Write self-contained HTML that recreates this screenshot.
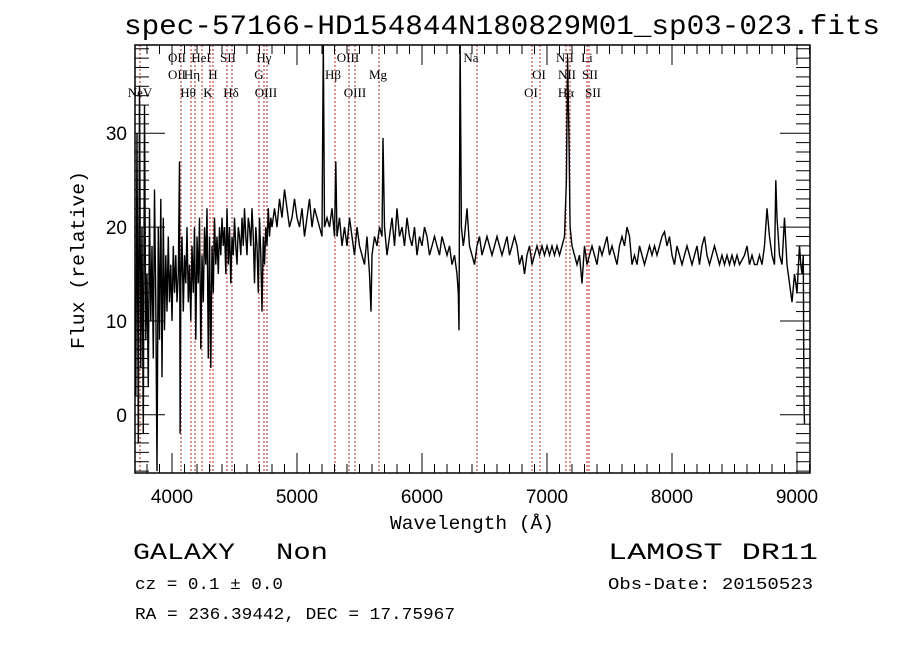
<!DOCTYPE html>
<html><head><meta charset="utf-8"><style>
html,body{margin:0;padding:0;background:#fff;}
svg{display:block;}
text{font-family:"Liberation Mono","DejaVu Sans Mono",monospace;fill:#000;}
.lab{font-family:"Liberation Serif",serif;font-size:13px;}
</style></head><body>
<svg id="chart" width="900" height="649" viewBox="0 0 900 649" xmlns="http://www.w3.org/2000/svg">
<rect width="900" height="649" fill="#fff"/>
<text x="502" y="34" font-size="28" text-anchor="middle" textLength="756" lengthAdjust="spacingAndGlyphs">spec-57166-HD154844N180829M01_sp03-023.fits</text>
<g id="lines"></g>
<g id="spec"></g>
<g id="axes"></g>
<text x="472" y="529" font-size="19" text-anchor="middle" textLength="164" lengthAdjust="spacingAndGlyphs">Wavelength (Å)</text>
<text transform="translate(84,260) rotate(-90)" font-size="19" text-anchor="middle" textLength="178" lengthAdjust="spacingAndGlyphs">Flux (relative)</text>
<text x="133" y="559" font-size="23" textLength="102" lengthAdjust="spacingAndGlyphs">GALAXY</text>
<text x="276" y="559" font-size="23" textLength="52" lengthAdjust="spacingAndGlyphs">Non</text>
<text x="608" y="559" font-size="23" textLength="210" lengthAdjust="spacingAndGlyphs">LAMOST DR11</text>
<text x="135" y="589" font-size="17" textLength="148" lengthAdjust="spacingAndGlyphs">cz = 0.1 ± 0.0</text>
<text x="608" y="589" font-size="17" textLength="205" lengthAdjust="spacingAndGlyphs">Obs-Date: 20150523</text>
<text x="135" y="619" font-size="17" textLength="320" lengthAdjust="spacingAndGlyphs">RA = 236.39442, DEC =  17.75967</text>
</svg>
<script>
const wavelengths=[3700,3710,3720,3730,3740,3750,3760,3770,3780,3790,3800,3810,3820,3830,3840,3850,3860,3870,3880,3890,3900,3910,3920,3930,3940,3950,3960,3970,3980,3990,4000,4010,4020,4030,4040,4050,4060,4065,4070,4080,4090,4100,
4110,4120,4130,4140,4150,4160,4170,4180,4190,4200,4210,4220,4230,4240,4250,4260,4270,4280,4290,4300,4310,4320,4330,4340,4350,4360,4370,4380,4390,4400,4410,4420,4430,4440,4450,4460,4470,4480,4490,4500,4510,4520,4530,4540,4550,4560,4570,4580,4590,4600,4610,4620,4630,4640,4650,4660,4670,4680,4690,4700,4710,4720,4730,4740,4750,4760,4770,4780,4790,4800,
4820,4840,4860,4880,4900,4920,4940,4960,4980,5000,5020,5040,5060,5080,5100,5120,5140,5160,5180,5200,5210,5220,5240,5260,5280,5300,5310,5320,5340,5360,5380,5400,5420,5440,5460,5480,5500,5520,5540,5560,5580,5592,5600,5620,5640,5660,5680,5688,5700,5720,5740,5760,5780,5800,5820,5840,5860,5880,5900,5920,5940,5960,5980,6000,6020,6040,6060,6080,6100,6120,6140,6160,6180,6200,6220,6240,6260,6280,6290,6296,6305,6315,6330,6340,6360,6380,
6400,6420,6440,6460,6480,6500,6520,6540,6560,6580,6600,6620,6640,6660,6680,6700,6720,6740,6760,6780,6800,6820,6840,6860,6880,6900,6920,6940,6960,6980,7000,7020,7040,7060,7080,7100,7120,7140,7155,7165,7175,7185,7200,7220,7240,7260,7280,7300,7320,7340,7360,7380,7400,
7420,7440,7460,7480,7500,7520,7540,7560,7580,7600,7620,7640,7660,7680,7700,7720,7740,7760,7780,7800,7820,7840,7860,7880,7900,7920,7940,7960,7980,8000,8020,8040,8060,8080,8100,8120,8140,8160,8180,8200,8220,8240,8260,8280,8300,8320,8340,8360,8380,8400,8420,8440,8460,8480,8500,8520,8540,8560,8580,8600,8620,8640,8660,8680,8700,8720,8740,8760,8780,8800,8820,8830,8840,8860,8880,8900,8920,8940,8960,8980,9000,9020,9030,9040,9050,9055,9060];
const fluxValues=[12,2,30,-3,35,5,20,-2,33,8,15,3,22,10,18,6,24,12,-6,20,8,23,4,21,9,17,11,19,12,16,10,18,13,17,12,15,27,-2,14,19,11,17,
14,20,12,16,10,18,13,20,8,19,14,21,7,17,12,20,16,22,6,19,5,18,13,21,16,19,15,20,17,21,18,20,15,22,16,20,14,19,17,21,18,16,20,19,17,21,18,22,19,17,21,20,18,22,19,14,20,18,13,21,17,11,19,16,20,18,22,19,21,20,
22,20,23,21,24,22,20,21,23,21,20,22,19,21,23,20,22,21,20,19,40,20,21,20,22,19,27,19,21,18,20,18,21,19,17,20,18,17,16,19,15,11,17,19,18,20,19,29.5,20,17,19,21,18,22,19,20,18,21,19,18,20,17,19,18,20,19,17,18,19,18,17,19,18,17,18,16,17,15,13,9,40,20,18,19,22,18,
17,16,18,19,17,18,19,18,17,18,19,18,17,18,19,17,18,19,18,16,17,15,17,18,16,17,18,17,18,17,18,17,18,17,18,17,18,19,25,38,30,20,18,17,16,17,14,18,16,17,18,17,16,
18,17,18,19,17,18,17,16,18,19,18,20,19,16,17,16,18,17,16,17,18,17,18,17,18,19,19.5,18,19,17,16,18,17,16,17,18,17,16,17,18,16,18,19,17,16,17,18,17,16,17,16,17,16,17,16,17,16,16.5,17,18,16,17,16,16,17,16,18,22,19,17,16,25,21,17,16,21,16,14,12,15,13,18,16,15,17,2,-1];
const lineWavelengths=[3744,4072,4152,4184,4240,4304,4328,4440,4480,4696,4736,4760,5304,5416,5464,5656,6440,6880,6944,7152,7184,7320,7336];
const labelNames=["OII","HeI","SII","Hγ","OIII","Na","NII","Li","OII","Hη","H","G","Hβ","Mg","OI","NII","SII","NeV","Hθ","K","Hδ","OIII","OIII","OI","Hα","SII"];
const labelWavelengths=[4040,4232,4448,4736,5408,6392,7144,7320,4040,4160,4328,4696,5288,5648,6936,7160,7344,3744,4128,4288,4472,4752,5464,6872,7152,7368];
const labelRows=[1,1,1,1,1,1,1,1,2,2,2,2,2,2,2,2,2,3,3,3,3,3,3,3,3,3];
const xTicks=[4000,5000,6000,7000,8000,9000];
const yTicks=[0,10,20,30];

const X0=135,X1=810,Y0=45,Y1=473,WMIN=3704,WMAX=9104,FMIN=-6.2,FMAX=39.4;
const xs=w=>X0+(w-WMIN)/(WMAX-WMIN)*(X1-X0);
const ys=f=>Y1-(f-FMIN)/(FMAX-FMIN)*(Y1-Y0);
const NS="http://www.w3.org/2000/svg";
function mk(tag,parent,attrs){const e=document.createElementNS(NS,tag);for(const k in attrs)e.setAttribute(k,attrs[k]);parent.appendChild(e);return e;}

const gl=document.getElementById('lines');
lineWavelengths.forEach(w=>{
  const l=mk('line',gl,{x1:xs(w),x2:xs(w),y1:Y0,y2:Y1,stroke:'#b22222','stroke-width':1,'stroke-dasharray':'2,2'});
  
  
});
const rowY=[0,62,79,97];
labelNames.forEach((n,i)=>{
  const t=mk('text',gl,{x:xs(labelWavelengths[i]),y:rowY[labelRows[i]],'text-anchor':'middle','class':'lab'});
  t.textContent=n;
  
  
});

const gs=document.getElementById('spec');
const clip=mk('clipPath',gs,{id:'pc'});mk('rect',clip,{x:X0,y:Y0,width:X1-X0,height:Y1-Y0});
let d='';
wavelengths.forEach((w,i)=>{const y=Math.max(Y0-5,Math.min(Y1+5,ys(fluxValues[i])));d+=(i?'L':'M')+xs(w).toFixed(1)+' '+y.toFixed(1);});
const p=mk('path',gs,{d:d,fill:'none',stroke:'#000','stroke-width':1.4,'clip-path':'url(#pc)'});



const ga=document.getElementById('axes');
const fr=mk('rect',ga,{x:X0,y:Y0,width:X1-X0,height:Y1-Y0,fill:'none',stroke:'#000','stroke-width':1.5});


for(let w=3800;w<=9100;w+=100){
  const maj=w%1000===0,len=maj?20:9,x=xs(w);
  mk('line',ga,{x1:x,x2:x,y1:Y1,y2:Y1-len,stroke:'#000'});
  mk('line',ga,{x1:x,x2:x,y1:Y0,y2:Y0+len,stroke:'#000'});
}
for(let f=-6;f<=39;f++){
  const maj=f%10===0,len=maj?30:14,y=ys(f);
  mk('line',ga,{x1:X0,x2:X0+len,y1:y,y2:y,stroke:'#000'});
  mk('line',ga,{x1:X1,x2:X1-len,y1:y,y2:y,stroke:'#000'});
}
xTicks.forEach(w=>{
  const t=mk('text',ga,{x:xs(w),y:Y1+30,'text-anchor':'middle','font-size':19,style:'font-family:"Liberation Sans",sans-serif'});
  t.textContent=String(w);
  
  
});
yTicks.forEach(f=>{
  const t=mk('text',ga,{x:X0-8,y:ys(f)+7,'text-anchor':'end','font-size':19,style:'font-family:"Liberation Sans",sans-serif'});
  t.textContent=String(f);
  
  
});
</script>
</body></html>
